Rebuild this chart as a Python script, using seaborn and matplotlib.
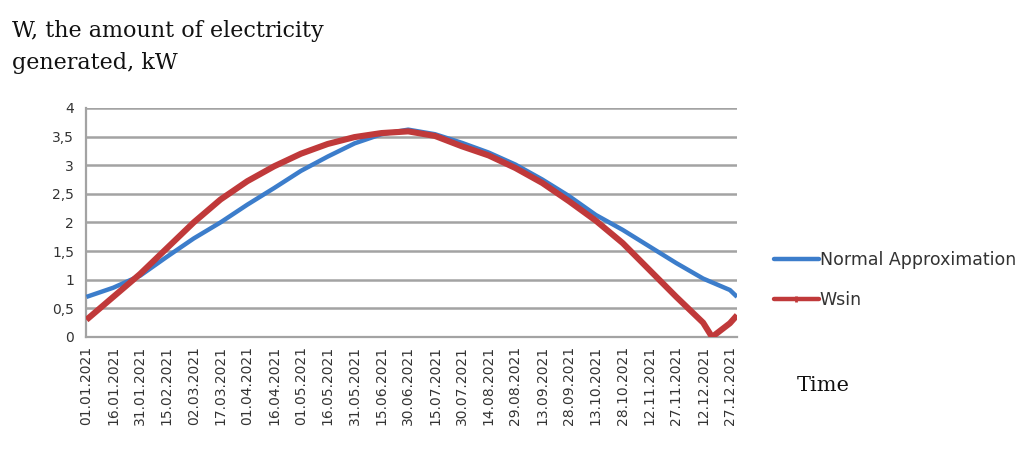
# IMPORT LIBRARIES

import numpy as np
import pandas as pd
import matplotlib
matplotlib.use("Agg")
import matplotlib.pyplot as plt
import seaborn as sns


# DATA (kW)

dates = ["01.01.2021", "16.01.2021", "31.01.2021", "15.02.2021", "02.03.2021",
         "17.03.2021", "01.04.2021", "16.04.2021", "01.05.2021", "16.05.2021",
         "31.05.2021", "15.06.2021", "30.06.2021", "15.07.2021", "30.07.2021",
         "14.08.2021", "29.08.2021", "13.09.2021", "28.09.2021", "13.10.2021",
         "28.10.2021", "12.11.2021", "27.11.2021", "12.12.2021", "27.12.2021",
         "31.12.2021"]

normal_approx = [0.70, 0.86, 1.07, 1.40, 1.72, 2.00, 2.31, 2.60, 2.90, 3.15,
                 3.38, 3.54, 3.62, 3.54, 3.39, 3.22, 3.01, 2.75, 2.46, 2.13,
                 1.87, 1.58, 1.29, 1.02, 0.82, 0.70]

wsin_dates = dates[:24] + ["17.12.2021", "27.12.2021", "31.12.2021"]
wsin = [0.30, 0.70, 1.10, 1.55, 2.00, 2.40, 2.72, 2.98, 3.20, 3.37,
        3.49, 3.56, 3.59, 3.51, 3.33, 3.17, 2.95, 2.69, 2.37, 2.03,
        1.64, 1.17, 0.70, 0.25, 0.00, 0.24, 0.38]

tick_labels = dates[:25]

blue = "#3C7DCB"
red = "#C0393A"

df = pd.concat([
    pd.DataFrame({"date": pd.to_datetime(dates, format="%d.%m.%Y"),
                  "W": normal_approx, "series": "Normal Approximation"}),
    pd.DataFrame({"date": pd.to_datetime(wsin_dates, format="%d.%m.%Y"),
                  "W": wsin, "series": "Wsin"}),
])


# PLOT

sns.set_style("white")
plt.rcParams["font.family"] = ["DejaVu Sans"]

fig = plt.figure(figsize=(10.23, 4.51), dpi=100)
ax = fig.add_axes([0.0845, 0.2528, 0.636, 0.508])

sns.lineplot(data=df, x="date", y="W", hue="series",
             palette={"Normal Approximation": blue, "Wsin": red},
             ax=ax, legend=False, zorder=3)
for ln, lw in zip(ax.lines, [3.2, 4.4]):
    ln.set_linewidth(lw)
    ln.set_solid_capstyle("butt")
    ln.set_solid_joinstyle("round")

ax.set_ylim(0, 4)
ax.set_yticks(np.arange(0, 4.01, 0.5))
ax.set_yticklabels([f"{v:g}".replace(".", ",") for v in np.arange(0, 4.01, 0.5)])
ax.set_xlim(pd.Timestamp("2021-01-01"), pd.Timestamp("2021-12-31"))
tick_dates = pd.to_datetime(tick_labels, format="%d.%m.%Y")
ax.set_xticks(tick_dates)
ax.set_xticklabels(tick_labels, rotation=90)

ax.grid(axis="y", color="#A3A3A3", linewidth=1.8)
ax.set_axisbelow(True)
for s in ["top", "right"]:
    ax.spines[s].set_visible(False)
for s in ["left", "bottom"]:
    ax.spines[s].set_color("#A3A3A3")
    ax.spines[s].set_linewidth(1.6)
ax.tick_params(axis="both", direction="out", length=6, width=1.4,
               color="#A3A3A3", labelsize=10, labelcolor="#333333", pad=3)
ax.tick_params(axis="x", pad=0.5)
ax.set_xlabel("")
ax.set_ylabel("")

# legend outside to the right
h_blue, = ax.plot([], [], color=blue, linewidth=3.2)
h_red, = ax.plot([], [], color=red, linewidth=3.2, marker="|", markersize=5,
                 markeredgewidth=2)
fig.legend([h_blue, h_red], ["Normal Approximation", "Wsin"],
           loc="upper left", bbox_to_anchor=(0.741, 0.478), frameon=False,
           fontsize=12.5, handlelength=2.6, handletextpad=0.05, labelspacing=1.25,
           labelcolor="#333333")

# titles as in the document
fig.text(0.012, 0.932, "W, the amount of electricity", family="DejaVu Serif",
         fontsize=16, va="center", color="#111111")
fig.text(0.012, 0.86, "generated, kW", family="DejaVu Serif",
         fontsize=16, va="center", color="#111111")
fig.text(0.779, 0.146, "Time", family="DejaVu Serif",
         fontsize=15, va="center", color="#111111")

fig.savefig("out.png", dpi=100)
